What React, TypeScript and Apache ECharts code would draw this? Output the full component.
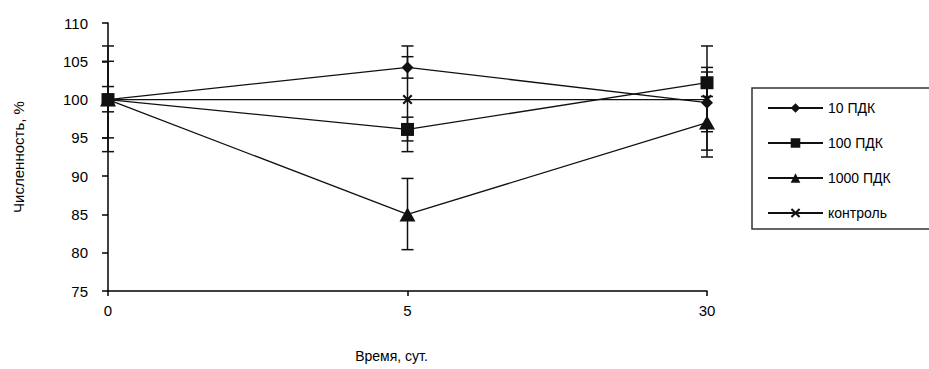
import React, { useEffect, useRef } from 'react';
import * as echarts from 'echarts';

const categories = ['0', '5', '30'];
const seriesNames = ['10 ПДК', '100 ПДК', '1000 ПДК', 'контроль'];
const xAxisTitle = 'Время, сут.';
const yAxisTitle = 'Численность, %';

const pdk10 = [100, 104.2, 99.6];
const pdk100 = [100, 96.1, 102.2];
const pdk1000 = [100, 85, 97];
const control = [100, 100, 100];

const pdk10Low = [95, 102.8, 95.8];
const pdk10High = [105, 105.6, 103.6];
const pdk100Low = [98.4, 94.6, 100.4];
const pdk100High = [101.7, 97.7, 104.2];
const pdk1000Low = [99.5, 80.4, 92.5];
const pdk1000High = [100.5, 89.7, 101.5];
const controlLow = [93.2, 93.2, 93.4];
const controlHigh = [107, 107, 107];

const FONT = 'Liberation Sans, Arial, sans-serif';
const INK = '#111';

const crossPath =
  'path://M0,1.5 L1.5,0 L5,3.5 L8.5,0 L10,1.5 L6.5,5 L10,8.5 L8.5,10 L5,6.5 L1.5,10 L0,8.5 L3.5,5 Z';

export default function App() {
  const ref = useRef<HTMLDivElement>(null);

  useEffect(() => {
    if (!ref.current) return;
    const chart = echarts.init(ref.current, undefined, { renderer: 'svg' });

    const values = [pdk10, pdk100, pdk1000, control];
    const lows = [pdk10Low, pdk100Low, pdk1000Low, controlLow];
    const highs = [pdk10High, pdk100High, pdk1000High, controlHigh];
    const symbols = ['diamond', 'rect', 'triangle', crossPath];
    const sizes = [12, 13, [16, 14], 10];

    const lineSeries = seriesNames.map((name, i) => ({
      name,
      type: 'line',
      data: values[i],
      symbol: symbols[i],
      symbolSize: sizes[i],
      showAllSymbol: true,
      lineStyle: { color: INK, width: 1.3 },
      itemStyle: { color: INK },
      z: 3,
    }));

    const errSeries = seriesNames.map((name, i) => ({
      name: name + ' (погрешность)',
      type: 'custom',
      data: categories.map((_, j) => [j, lows[i][j], highs[i][j]]),
      z: 2,
      renderItem: (params: any, api: any) => {
        const x = api.value(0);
        const lo = api.coord([x, api.value(1)]);
        const hi = api.coord([x, api.value(2)]);
        const w = 6;
        const style = { stroke: INK, lineWidth: 1.5 };
        return {
          type: 'group',
          children: [
            { type: 'line', shape: { x1: lo[0], y1: lo[1], x2: hi[0], y2: hi[1] }, style },
            { type: 'line', shape: { x1: lo[0] - w, y1: lo[1], x2: lo[0] + w, y2: lo[1] }, style },
            { type: 'line', shape: { x1: hi[0] - w, y1: hi[1], x2: hi[0] + w, y2: hi[1] }, style },
          ],
        };
      },
    }));

    chart.setOption({
      animation: false,
      backgroundColor: '#fff',
      grid: { left: 108, right: 222, top: 23, bottom: 78, containLabel: false },
      graphic: [
        {
          type: 'rect',
          shape: { x: 752, y: 88, width: 260, height: 141 },
          style: { fill: 'none', stroke: '#333', lineWidth: 1.5 },
          silent: true,
        },
      ],
      legend: {
        data: seriesNames,
        orient: 'vertical',
        left: 752,
        top: 88,
        padding: [13, 10, 11, 15],
        itemWidth: 55,
        itemHeight: 12,
        itemGap: 21,
        textStyle: { fontFamily: FONT, fontSize: 14, color: '#000', lineHeight: 12 },
      },
      xAxis: {
        type: 'category',
        data: categories,
        boundaryGap: false,
        name: xAxisTitle,
        nameLocation: 'middle',
        nameGap: 58,
        nameTextStyle: { fontFamily: FONT, fontSize: 14, color: '#000', padding: [0, 32, 0, 0] },
        axisLine: { lineStyle: { color: '#000', width: 1.5 } },
        axisTick: { show: true, length: 5, lineStyle: { color: '#000', width: 1.5 } },
        axisLabel: { fontFamily: FONT, fontSize: 15, color: '#000', margin: 12 },
        splitLine: { show: false },
      },
      yAxis: {
        type: 'value',
        min: 75,
        max: 110,
        interval: 5,
        name: yAxisTitle,
        nameLocation: 'middle',
        nameGap: 82,
        nameTextStyle: { fontFamily: FONT, fontSize: 15, color: '#000' },
        axisLine: { show: true, lineStyle: { color: '#000', width: 1.5 } },
        axisTick: { show: true, length: 6, lineStyle: { color: '#000', width: 1.5 } },
        axisLabel: { fontFamily: FONT, fontSize: 15, color: '#000', margin: 20 },
        splitLine: { show: false },
      },
      series: [...errSeries, ...lineSeries],
    });

    return () => chart.dispose();
  }, []);

  return <div ref={ref} style={{ width: 929, height: 369, position: 'absolute', left: 0, top: 0 }} />;
}
